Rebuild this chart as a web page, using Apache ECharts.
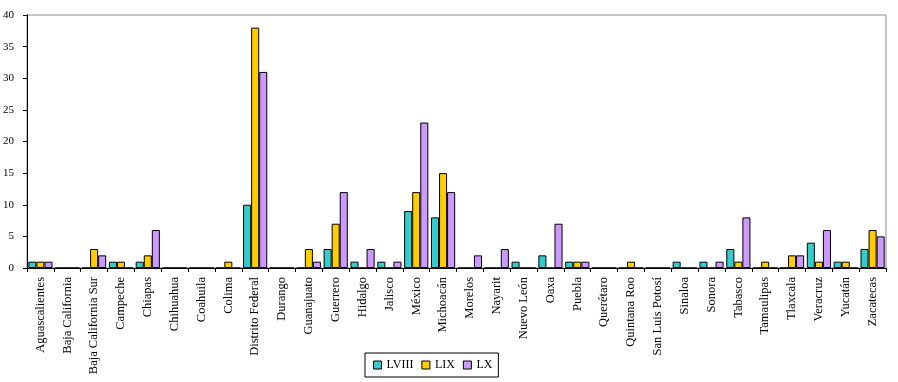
<!DOCTYPE html>
<html><head><meta charset="utf-8">
<script src="https://cdn.jsdelivr.net/npm/echarts@6/dist/echarts.min.js"></script>
<style>html,body{margin:0;padding:0;background:#fff}#c{width:898px;height:382px}</style>
</head><body><div id="c"></div>
<script>
const categories = ["Aguascalientes","Baja California","Baja California Sur","Campeche","Chiapas","Chihuahua","Coahuila","Colima","Distrito Federal","Durango","Guanajuato","Guerrero","Hidalgo","Jalisco","México","Michoacán","Morelos","Nayarit","Nuevo León","Oaxa","Puebla","Querétaro","Quintana Roo","San Luis Potosí","Sinaloa","Sonora","Tabasco","Tamaulipas","Tlaxcala","Veracruz","Yucatán","Zacatecas"];
const lviii = [1,0,0,1,1,0,0,0,10,0,0,3,1,1,9,8,0,0,1,2,1,0,0,0,1,1,3,0,0,4,1,3];
const lix   = [1,0,3,1,2,0,0,1,38,0,3,7,0,0,12,15,0,0,0,0,1,0,1,0,0,0,1,1,2,1,1,6];
const lx    = [1,0,2,0,6,0,0,0,31,0,1,12,3,1,23,12,2,3,0,7,1,0,0,0,0,1,8,0,2,6,0,5];
const seriesNames = ["LVIII","LIX","LX"];
const colors = ["#33CCCC","#FFCC00","#CC99FF"];
const font = "Liberation Serif";
const chart = echarts.init(document.getElementById('c'), null, {renderer:'canvas'});
const mk = (name, data, i) => ({
  name, type:'bar', data, barGap:'0%', barCategoryGap:'10%',
  itemStyle:{color:colors[i], borderColor:'#000', borderWidth:1},
  emphasis:{disabled:true}
});
chart.setOption({
  animation:false,
  textStyle:{fontFamily:font},
  grid:{left:27, top:15, right:12, bottom:114, show:true, borderColor:'#888', borderWidth:1, backgroundColor:'#fff'},
  legend:{
    data:seriesNames, top:353, left:365,
    itemWidth:8, itemHeight:8, itemGap:8,
    icon:'rect',
    borderColor:'#000', borderWidth:1, padding:[6,6,6,8], borderRadius:0,
    textStyle:{fontFamily:font, fontSize:12, color:'#000'},
    itemStyle:{borderColor:'#000', borderWidth:1}
  },
  xAxis:{
    type:'category', data:categories,
    axisLine:{lineStyle:{color:'#000', width:1}},
    axisTick:{show:true, length:4, lineStyle:{color:'#000'}},
    axisLabel:{rotate:90, interval:0, fontFamily:font, fontSize:12.5, color:'#000', margin:9}
  },
  yAxis:{
    type:'value', min:0, max:40, interval:5,
    splitLine:{show:false},
    axisLine:{show:true, lineStyle:{color:'#000', width:1}},
    axisTick:{show:true, length:4, lineStyle:{color:'#000'}},
    axisLabel:{fontFamily:font, fontSize:11, color:'#000', margin:13}
  },
  series:[mk(seriesNames[0], lviii, 0), mk(seriesNames[1], lix, 1), mk(seriesNames[2], lx, 2)]
});
</script></body></html>
